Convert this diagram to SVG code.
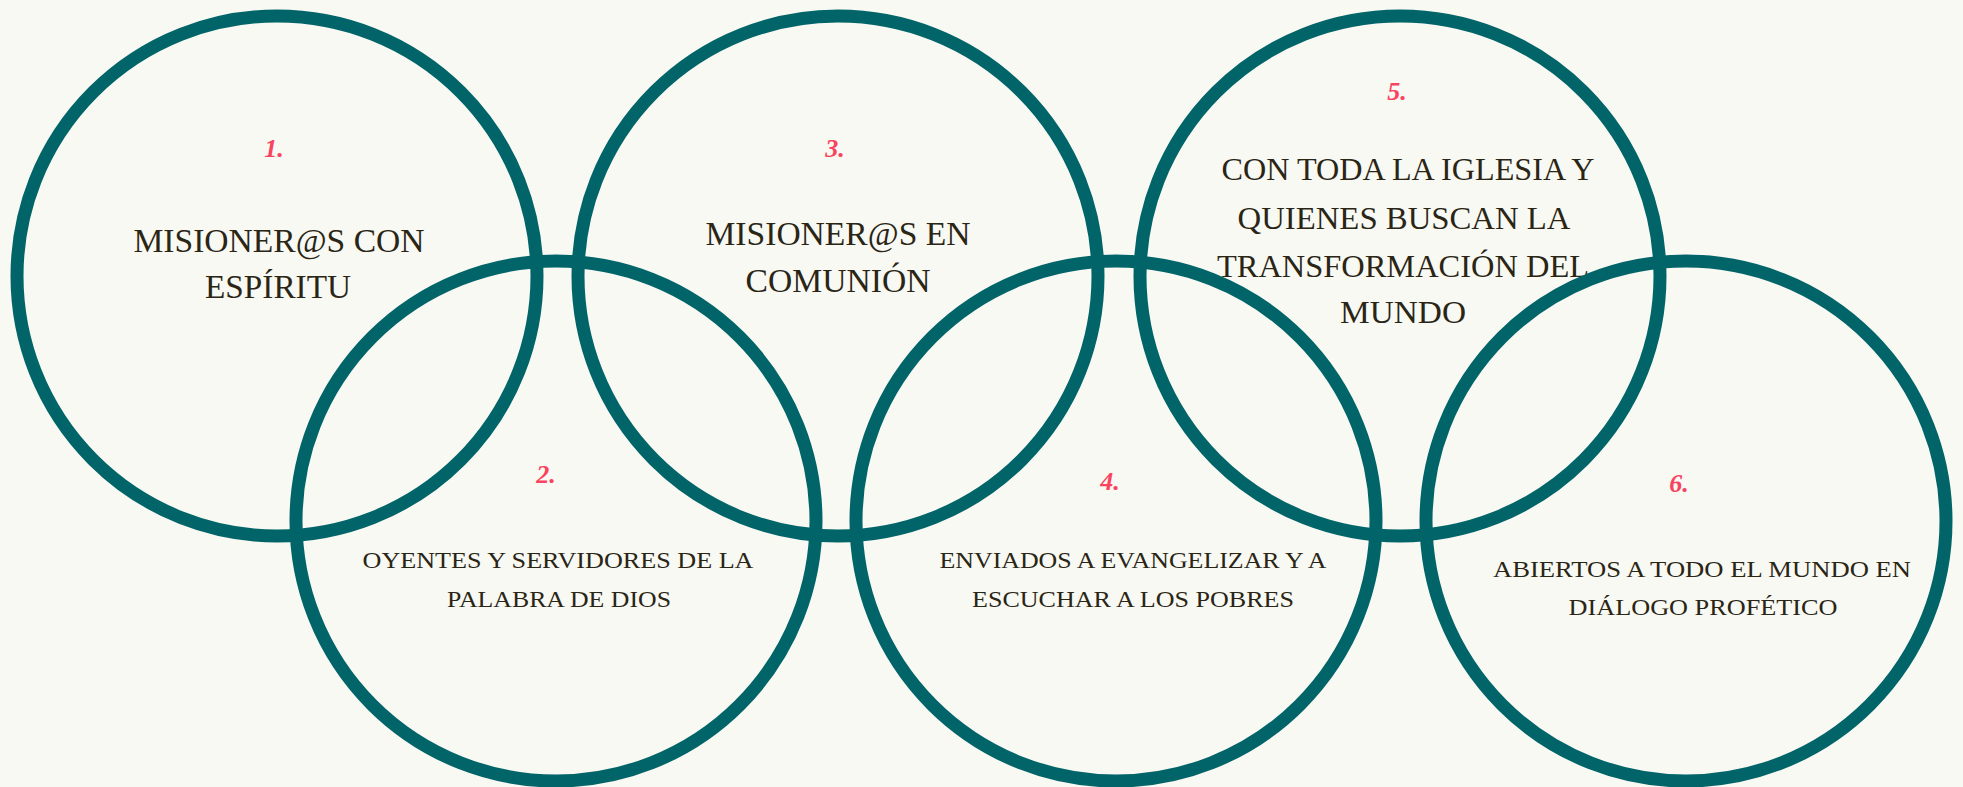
<svg xmlns="http://www.w3.org/2000/svg" width="1963" height="787" viewBox="0 0 1963 787">
<style>
.ring{fill:none;stroke:#006468;stroke-width:13}
.num{font-family:"Liberation Serif",serif;font-weight:bold;font-style:italic;font-size:26px;fill:#f9445f;text-anchor:middle}
.big{font-family:"Liberation Serif",serif;font-size:34px;fill:#2a2515;text-anchor:middle}
.mid{font-family:"Liberation Serif",serif;font-size:32px;fill:#2a2515;text-anchor:middle}
.sm{font-family:"Liberation Serif",serif;font-size:24px;fill:#2a2515;text-anchor:middle}
</style>
<rect width="1963" height="787" fill="#f8f9f3"/>
<g id="connectors"></g>
<g id="node1">
<circle class="ring" cx="277" cy="276" r="260"/>
<text class="num" x="274" y="157">1.</text>
<text class="big" x="279" y="252" textLength="291" lengthAdjust="spacingAndGlyphs">MISIONER@S CON</text>
<text class="big" x="278" y="298" textLength="146" lengthAdjust="spacingAndGlyphs">ESPÍRITU</text>
</g>
<g id="node2">
<circle class="ring" cx="556" cy="521" r="260"/>
<text class="num" x="546" y="483">2.</text>
<text class="sm" x="558" y="568" textLength="391" lengthAdjust="spacingAndGlyphs">OYENTES Y SERVIDORES DE LA</text>
<text class="sm" x="559" y="607" textLength="224" lengthAdjust="spacingAndGlyphs">PALABRA DE DIOS</text>
</g>
<g id="node3">
<circle class="ring" cx="838" cy="276" r="260"/>
<text class="num" x="835" y="157">3.</text>
<text class="big" x="838" y="245" textLength="265" lengthAdjust="spacingAndGlyphs">MISIONER@S EN</text>
<text class="big" x="838" y="292" textLength="185" lengthAdjust="spacingAndGlyphs">COMUNIÓN</text>
</g>
<g id="node4">
<circle class="ring" cx="1116" cy="521" r="260"/>
<text class="num" x="1110" y="490">4.</text>
<text class="sm" x="1133" y="568" textLength="387" lengthAdjust="spacingAndGlyphs">ENVIADOS A EVANGELIZAR Y A</text>
<text class="sm" x="1133" y="607" textLength="322" lengthAdjust="spacingAndGlyphs">ESCUCHAR A LOS POBRES</text>
</g>
<g id="node5">
<circle class="ring" cx="1400" cy="276" r="260"/>
<text class="num" x="1397" y="100">5.</text>
<text class="mid" x="1408" y="180" textLength="373" lengthAdjust="spacingAndGlyphs">CON TODA LA IGLESIA Y</text>
<text class="mid" x="1404" y="229" textLength="333" lengthAdjust="spacingAndGlyphs">QUIENES BUSCAN LA</text>
<text class="mid" x="1403" y="277" textLength="372" lengthAdjust="spacingAndGlyphs">TRANSFORMACIÓN DEL</text>
<text class="mid" x="1403" y="323" textLength="126" lengthAdjust="spacingAndGlyphs">MUNDO</text>
</g>
<g id="node6">
<circle class="ring" cx="1686" cy="521" r="260"/>
<text class="num" x="1679" y="492">6.</text>
<text class="sm" x="1702" y="577" textLength="418" lengthAdjust="spacingAndGlyphs">ABIERTOS A TODO EL MUNDO EN</text>
<text class="sm" x="1703" y="615" textLength="269" lengthAdjust="spacingAndGlyphs">DIÁLOGO PROFÉTICO</text>
</g>
</svg>
